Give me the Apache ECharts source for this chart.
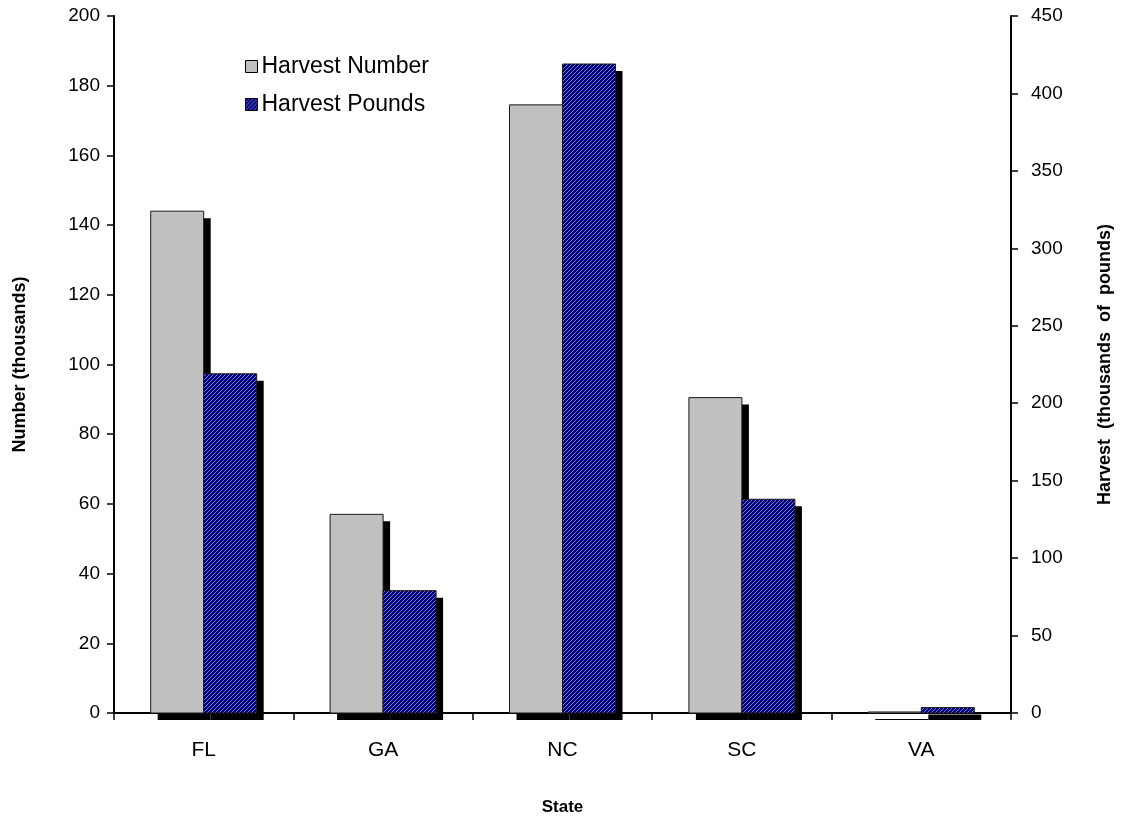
<!DOCTYPE html>
<html><head><meta charset="utf-8">
<script src="https://cdn.jsdelivr.net/npm/echarts@6/dist/echarts.min.js"></script>
<style>html,body{margin:0;padding:0;background:#fff}#c{width:1125px;height:821px}</style>
</head><body><div id="c"></div>
<script>
var categories = ['FL', 'GA', 'NC', 'SC', 'VA'];
var harvestNumber = [144, 57, 174.5, 90.5, 0.3];
var harvestPounds = [219, 79, 419, 138, 3.5];
var leftTicks = [0, 200, 20];
var rightTicks = [0, 450, 50];

function hatch() {
  var c = document.createElement('canvas');
  c.width = 4; c.height = 4;
  var g = c.getContext('2d');
  g.fillStyle = '#000080';
  g.fillRect(0, 0, 4, 4);
  g.fillStyle = '#7c7cbe';
  for (var i = 0; i < 4; i++) g.fillRect(i, 3 - i, 1, 1);
  return c;
}
var pat = { image: hatch(), repeat: 'repeat' };
var F = '"Liberation Sans", Arial, sans-serif';
var BAR_W = 53, SH = 7;

function barRenderer(side, fill) {
  return function (params, api) {
    var top = api.coord([api.value(0), api.value(1)]);
    var base = api.coord([api.value(0), 0]);
    var x = side < 0 ? top[0] - BAR_W : top[0];
    var h = base[1] - top[1];
    return {
      type: 'group',
      children: [
        { type: 'rect', shape: { x: x + SH, y: top[1] + SH, width: BAR_W, height: h }, style: { fill: '#000' } },
        { type: 'rect', shape: { x: x, y: top[1], width: BAR_W, height: h }, style: { fill: fill, stroke: '#1a1a1a', lineWidth: 1 } }
      ]
    };
  };
}
function pairs(arr) { return arr.map(function (v, i) { return [i, v]; }); }

var chart = echarts.init(document.getElementById('c'));
chart.setOption({
  animation: false,
  grid: { left: 114, right: 114, top: 16, bottom: 105 },
  legend: {
    orient: 'vertical', left: 240, top: 50, itemGap: 15, itemWidth: 12, itemHeight: 12,
    textStyle: { fontFamily: F, fontSize: 23, color: '#000', padding: [0, 0, 0, -1] },
    data: [
      { name: 'Harvest Number', icon: 'rect', itemStyle: { color: '#c0c0c0', borderColor: '#000', borderWidth: 1 } },
      { name: 'Harvest Pounds', icon: 'rect', itemStyle: { color: pat, borderColor: '#000', borderWidth: 1 } }
    ]
  },
  xAxis: {
    type: 'category', data: categories,
    name: 'State', nameLocation: 'middle', nameGap: 86,
    nameTextStyle: { fontFamily: F, fontSize: 17, fontWeight: 'bold', color: '#000' },
    axisLine: { lineStyle: { color: '#000', width: 2 } },
    axisTick: { show: true, length: 7, lineStyle: { color: '#000', width: 1.5 } },
    axisLabel: { margin: 27, fontFamily: F, fontSize: 21, color: '#000' }
  },
  yAxis: [
    {
      type: 'value', min: leftTicks[0], max: leftTicks[1], interval: leftTicks[2],
      name: 'Number (thousands)', nameLocation: 'middle', nameGap: 85,
      nameTextStyle: { fontFamily: F, fontSize: 18, fontWeight: 'bold', color: '#000' },
      axisLine: { show: true, lineStyle: { color: '#000', width: 2 } },
      axisTick: { show: true, length: 7, lineStyle: { color: '#000', width: 1.5 } },
      axisLabel: { margin: 14, fontFamily: F, fontSize: 19, color: '#000' },
      splitLine: { show: false }
    },
    {
      type: 'value', min: rightTicks[0], max: rightTicks[1], interval: rightTicks[2],
      name: 'Harvest  (thousands  of  pounds)', nameLocation: 'middle', nameGap: 85,
      nameTextStyle: { fontFamily: F, fontSize: 18, fontWeight: 'bold', color: '#000' },
      axisLine: { show: true, lineStyle: { color: '#000', width: 2 } },
      axisTick: { show: true, length: 7, lineStyle: { color: '#000', width: 1.5 } },
      axisLabel: { margin: 20, fontFamily: F, fontSize: 19, color: '#000' },
      splitLine: { show: false }
    }
  ],
  series: [
    {
      name: 'Harvest Number', type: 'custom', yAxisIndex: 0, data: pairs(harvestNumber),
      encode: { x: 0, y: 1 }, itemStyle: { color: '#c0c0c0' },
      renderItem: barRenderer(-1, '#c0c0c0')
    },
    {
      name: 'Harvest Pounds', type: 'custom', yAxisIndex: 1, data: pairs(harvestPounds),
      encode: { x: 0, y: 1 }, itemStyle: { color: '#000080' },
      renderItem: barRenderer(1, pat)
    }
  ]
});
</script></body></html>
